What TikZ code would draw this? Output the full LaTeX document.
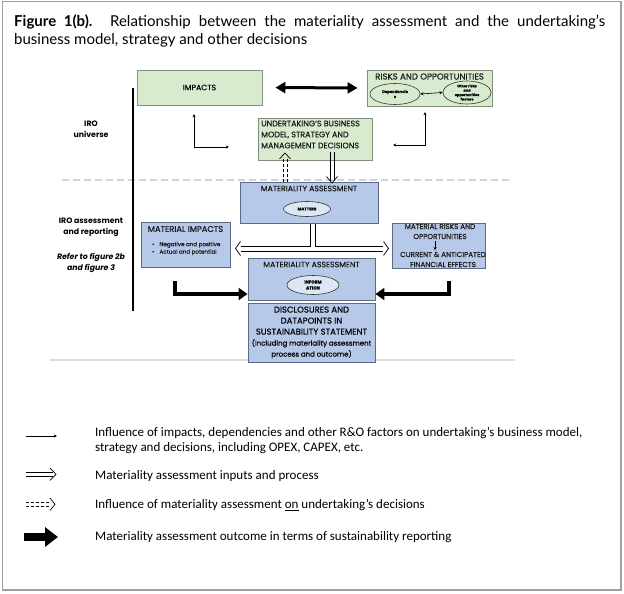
\documentclass[tikz,border=0pt]{standalone}
\usepackage{fontspec}
\setmainfont{Poppins}
\newfontfamily\bx{Poppins}[FakeBold=0.25]
\newfontfamily\titlefont{Lato}
\newfontfamily\legfont{Carlito}
\usetikzlibrary{arrows.meta,shapes.geometric}
\definecolor{gfill}{HTML}{D9EBCF}
\definecolor{gdraw}{HTML}{7F8F7A}
\definecolor{bfill}{HTML}{B7C9E8}
\definecolor{bdraw}{HTML}{5A6A88}
\definecolor{efill}{HTML}{DDE6F4}
\definecolor{framec}{HTML}{A0A0A0}
\definecolor{sepc}{HTML}{D3D3D3}
\tikzset{
  gbox/.style={draw=gdraw, fill=gfill, line width=0.9pt, inner sep=0pt},
  bbox/.style={draw=bdraw, fill=bfill, line width=0.9pt, inner sep=0pt},
  txt/.style={inner sep=0pt, align=center, text=black!90},
  oval/.style={ellipse, draw=black!80, line width=0.6pt, inner sep=0pt, align=center},
  thinarr/.style={line width=0.6pt, -{Stealth[length=3.2pt,width=3pt]}},
  thinboth/.style={line width=0.6pt, {Stealth[length=3.2pt,width=3pt]}-{Stealth[length=3.2pt,width=3pt]}},
  thickarr/.style={line width=3.6pt, line join=miter, -{Triangle[length=9pt,width=12pt]}},
  dbl/.style={line width=0.7pt},
  dbldash/.style={line width=0.7pt, dash pattern=on 3pt off 2pt},
  chev/.style={line width=0.7pt, line join=miter},
  lab/.style={inner sep=0pt, align=center, font=\fontsize{7.8}{11}\selectfont\bfseries},
  leg/.style={inner sep=0pt, anchor=west, align=left, font=\legfont\fontsize{13}{15}\selectfont},
}
\begin{document}
\begin{tikzpicture}[x=1pt,y=-1pt]
\useasboundingbox (0,0) rectangle (624,594);
\draw[framec, line width=1.5pt] (2.5,1.5) rectangle (621,590);
% title
\node[anchor=west, inner sep=0pt] (t1) at (14,22) {\titlefont\fontsize{15}{18}\selectfont\makebox[591pt][s]{\textbf{Figure 1(b).} Relationship between the materiality assessment and the undertaking’s}};
\node[anchor=west, inner sep=0pt] (t2) at (14,40) {\titlefont\fontsize{15}{18}\selectfont business model, strategy and other decisions};
% separators
\draw[sepc, line width=1.5pt, dash pattern=on 7pt off 4pt] (62,180) coordinate (s1) -- (510,180) coordinate (s2);
\draw[sepc!80, line width=1.5pt] (50,360) coordinate (s3) -- (515,360) coordinate (s4);
\draw[black, line width=1.5pt] (133,88) coordinate (v1) -- (133,311) coordinate (v2);
% left labels
\node[lab] (iro) at (91,129) {IRO\\universe};
\node[lab] (iroa) at (91,227.5) {IRO assessment\\and reporting};
\node[lab, font=\fontsize{7.8}{11}\selectfont\bfseries\itshape] (ref) at (91,262.5) {Refer to figure 2b\\and figure 3};
% top boxes
\node[gbox, minimum width=125pt, minimum height=35pt] (impacts) at (199.5,87.5) {\bx\fontsize{7.8}{9}\selectfont IMPACTS};
\node[gbox, minimum width=125pt, minimum height=36pt] (risks) at (429.5,88) {};
\node[txt, font=\bx\fontsize{8.6}{9}\selectfont] (riskt) at (429.5,76.5) {RISKS AND OPPORTUNITIES};
\node[oval, fill=gfill, minimum width=50pt, minimum height=21pt, font=\bx\fontsize{3.8}{5}\selectfont\bfseries] (dep) at (395,94) {Dependencie\\s};
\node[oval, fill=gfill, minimum width=48pt, minimum height=23pt, font=\bx\fontsize{3.5}{4.4}\selectfont\bfseries] (oth) at (467,92.5) {Other risks\\and\\opportunities\\factors};
\draw[thinboth] (dep.east) -- (oth.west);
\draw[line width=3pt, {Triangle[length=10pt,width=11pt]}-{Triangle[length=10pt,width=11pt]}, shorten <=13pt, shorten >=9pt] (impacts.east) -- (risks.west);
\node[gbox, minimum width=114pt, minimum height=42pt] (und) at (315,139) {};
\node[txt, align=left, anchor=west, font=\bx\fontsize{8}{11}\selectfont] (undt) at (261,134.5) {UNDERTAKING’S BUSINESS\\MODEL, STRATEGY AND\\MANAGEMENT DECISIONS};
% thin elbows
\coordinate (la) at (194,114); \coordinate (lb) at (194,147); \coordinate (lc) at (229,147);
\draw[thinboth] (la) -- (lb) -- (lc);
\coordinate (ra) at (425,112); \coordinate (rb) at (425,145); \coordinate (rc) at (393,145);
\draw[thinboth] (ra) -- (rb) -- (rc);
% materiality assessment top
\node[bbox, minimum width=138pt, minimum height=41pt] (mat) at (309,202.5) {};
\node[txt, font=\bx\fontsize{7.8}{9}\selectfont] (matt) at (309,188.5) {MATERIALITY ASSESSMENT};
\node[oval, fill=efill, minimum width=47pt, minimum height=15pt, font=\bx\fontsize{4}{5}\selectfont\bfseries] (matters) at (307,209) {MATTERS};
% dashed double up (influence on decisions)
\coordinate (du) at (285,182);
\draw[dbldash] (283,182) -- (283,157) (287,182) -- (287,157);
\draw[chev] (279.5,159) -- (285,153) -- (290.5,159);
% double down (inputs)
\draw[dbl] (330,152) -- (330,181) (334,152) -- (334,181);
\draw[chev] (326.5,176.5) -- (332,183) -- (337.5,176.5);
% split double lines
\coordinate (sl) at (241,246); \coordinate (sr) at (383,246);
\draw[dbl, line join=miter] (310,223.5) -- (310,246) -- (sl);
\draw[dbl, line join=miter] (315,223.5) -- (315,246) -- (sr);
\draw[dbl] (241,251) -- (383,251);
\draw[chev] (240.5,241.5) -- (235.5,248.5) -- (240.5,255.5);
\draw[chev] (383.5,241.5) -- (388.5,248.5) -- (383.5,255.5);
% material impacts
\node[bbox, minimum width=89pt, minimum height=45pt] (mi) at (185.5,244.5) {};
\node[txt, font=\bx\fontsize{8.3}{9}\selectfont] (mit) at (185.5,229) {MATERIAL IMPACTS};
\node[txt, align=left, anchor=west, font=\bx\fontsize{5.6}{7.5}\selectfont] (mib) at (152,248.5) {\textbullet\hspace{5pt}Negative and positive\\\textbullet\hspace{5pt}Actual and potential};
% material risks
\node[bbox, minimum width=93pt, minimum height=45pt] (mr) at (438.5,245.5) {};
\node[txt, font=\bx\fontsize{7.2}{10}\selectfont] (mrt) at (440,231.5) {MATERIAL RISKS AND\\OPPORTUNITIES};
\node[txt, font=\bx\fontsize{7.2}{10}\selectfont] (mrf) at (443,259.5) {CURRENT \& ANTICIPATED\\FINANCIAL EFFECTS};
\draw[thinarr] (mrt.south) ++(-5,2) coordinate (mra) -- ++(0,9);
% materiality assessment bottom
\node[bbox, minimum width=127pt, minimum height=42pt] (mab) at (311.5,279) {};
\node[txt, font=\bx\fontsize{7.8}{9}\selectfont] (mabt) at (311.5,264.5) {MATERIALITY ASSESSMENT};
\node[oval, fill=efill, minimum width=52pt, minimum height=19pt, font=\bx\fontsize{4.4}{6}\selectfont\bfseries] (info) at (313,285) {INFORM\\ATION};
% disclosures
\node[bbox, minimum width=127pt, minimum height=59pt, align=center, font=\bx\fontsize{8.5}{11}\selectfont] (disc) at (311.5,332.5) {DISCLOSURES AND\\DATAPOINTS IN\\SUSTAINABILITY STATEMENT\\{\fontsize{7}{11}\selectfont(Including materiality assessment}\\{\fontsize{7}{11}\selectfont process and outcome)}};
% thick arrows
\coordinate (tl) at (175,281); \coordinate (tr) at (449,281);
\draw[thickarr] (tl) |- (mab.west |- 0,294);
\draw[thickarr] (tr) |- (mab.east |- 0,294);
% legend
\coordinate (g1a) at (26,436); \coordinate (g1b) at (57,436);
\draw[thinarr] (g1a) -- (g1b);
\node[leg] (g1t) at (95,440.5) {Influence of impacts, dependencies and other R\&O factors on undertaking’s business model,\\strategy and decisions, including OPEX, CAPEX, etc.};
\coordinate (g2) at (26,474.3);
\draw[dbl] (26,472.5) -- (53,472.5) (26,476) -- (53,476);
\draw[chev] (50,468) -- (56,474.3) -- (50,480.5);
\node[leg] (g2t) at (95,476) {Materiality assessment inputs and process};
\coordinate (g3) at (26,504.3);
\draw[dbldash] (26,502.5) -- (51,502.5) (26,506) -- (51,506);
\draw[chev] (50,498) -- (55,504.3) -- (50,510.5);
\node[leg] (g3t) at (95,505) {Influence of materiality assessment \underline{on} undertaking’s decisions};
\coordinate (g4a) at (24,537); \coordinate (g4b) at (58,537);
\draw[line width=8pt, -{Triangle[length=13pt,width=19pt]}] (g4a) -- (g4b);
\node[leg] (g4t) at (95,537.5) {Materiality assessment outcome in terms of sustainability reporting};
\end{tikzpicture}
\end{document}
